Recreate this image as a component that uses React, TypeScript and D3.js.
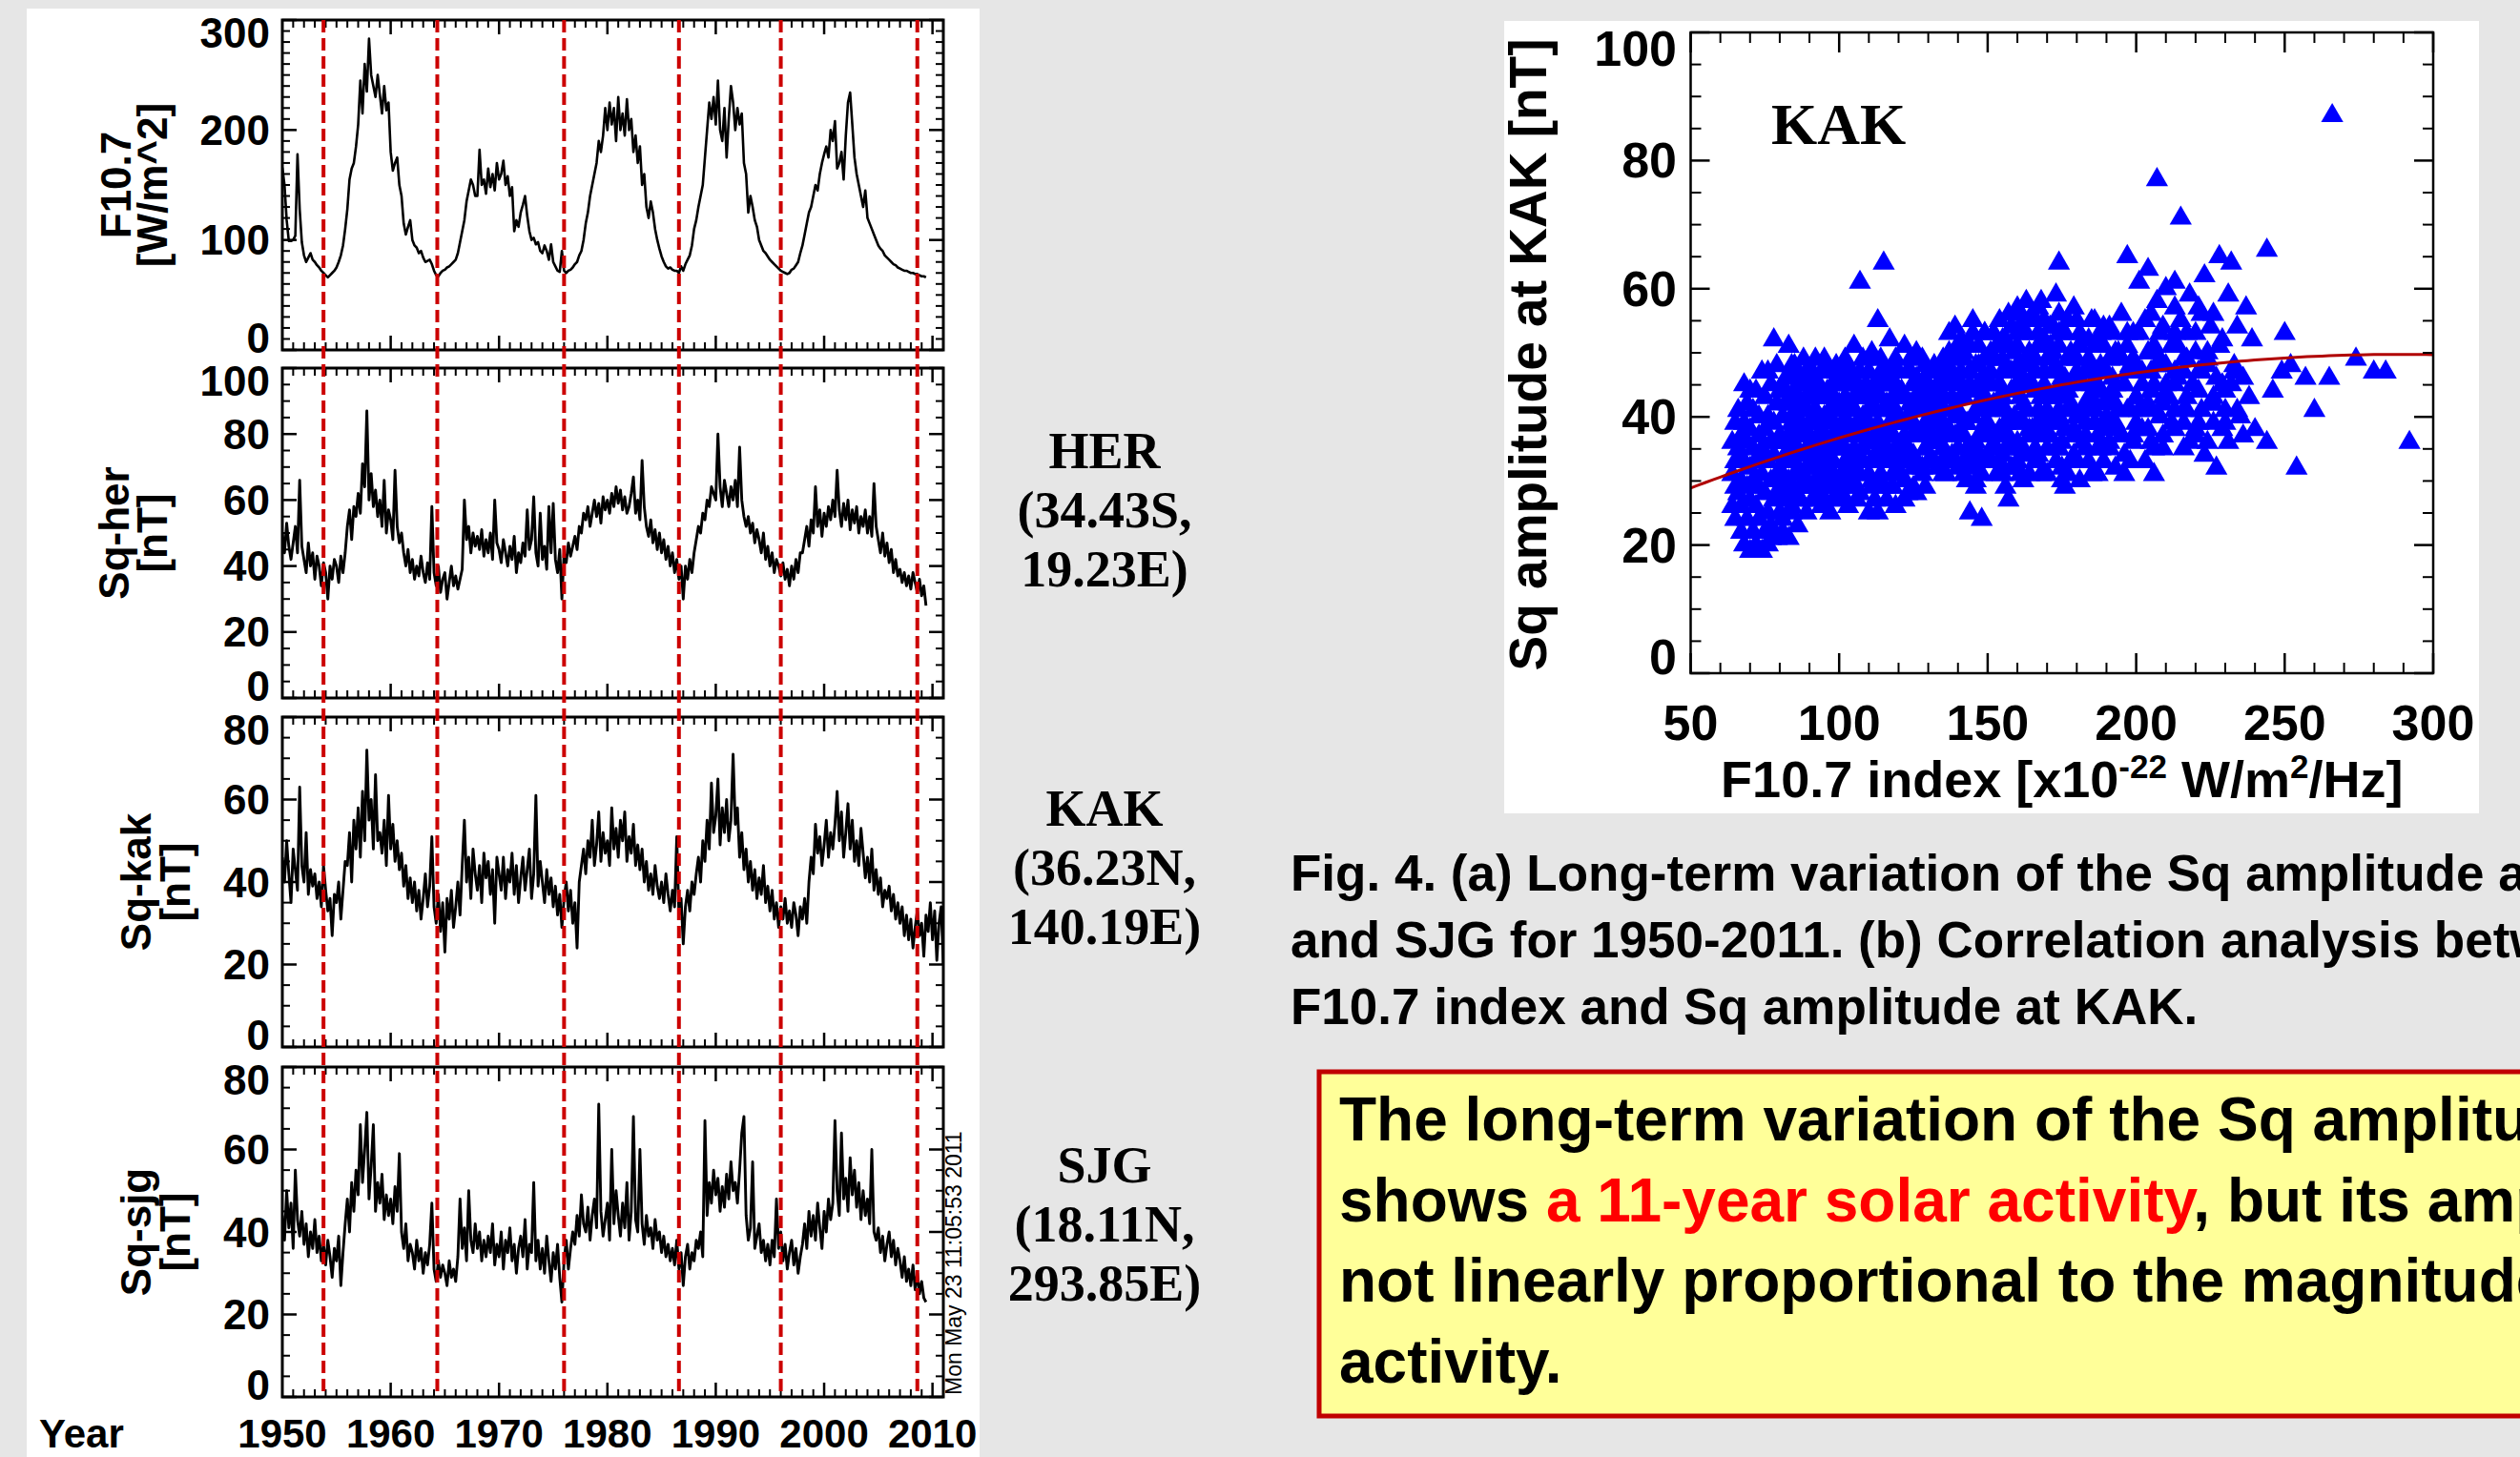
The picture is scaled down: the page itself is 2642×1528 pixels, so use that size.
import React from "react"
import * as d3 from "d3"

// time series are sampled every 0.2 year starting at 1950.0
const START_YEAR = 1950
const STEP = 0.2

// F10.7 solar flux [W/m^2]
const f107 = [
  166, 150, 118, 99, 99, // 1950
  100, 104, 178, 128, 98,
  86, 80, 84, 88, 82,
  80, 77, 75, 72, 70,
  68, 66, 68, 70, 72,
  75, 80, 86, 95, 110, // 1955
  128, 155, 165, 170, 185,
  205, 245, 215, 260, 235,
  283, 250, 240, 230, 250,
  232, 215, 240, 218, 225,
  180, 163, 170, 175, 150, // 1960
  140, 115, 105, 112, 118,
  100, 95, 93, 88, 90,
  84, 80, 81, 82, 78,
  72, 68, 67, 70, 72,
  73, 75, 76, 78, 80, // 1965
  82, 88, 98, 108, 118,
  135, 145, 155, 150, 140,
  140, 182, 150, 155, 142,
  165, 148, 160, 145, 170,
  155, 160, 172, 150, 158, // 1970
  140, 148, 108, 118, 112,
  125, 132, 140, 122, 108,
  100, 102, 96, 98, 90,
  88, 95, 90, 82, 96,
  80, 76, 72, 71, 90, // 1975
  72, 70, 72, 73, 75,
  78, 80, 86, 90, 100,
  115, 125, 140, 150, 160,
  170, 190, 180, 195, 220,
  200, 225, 205, 220, 190, // 1980
  230, 200, 215, 195, 228,
  200, 210, 180, 195, 170,
  185, 150, 160, 130, 120,
  135, 125, 110, 100, 92,
  85, 80, 76, 74, 75, // 1985
  73, 72, 72, 70, 76,
  72, 78, 82, 86, 95,
  110, 118, 130, 140, 150,
  175, 200, 225, 210, 230,
  205, 245, 200, 190, 220, // 1990
  175, 210, 240, 225, 200,
  220, 205, 215, 170, 160,
  125, 140, 130, 118, 112,
  100, 95, 90, 88, 85,
  82, 80, 78, 76, 74, // 1995
  72, 71, 70, 69, 70,
  73, 74, 77, 80, 88,
  95, 105, 115, 125, 130,
  140, 150, 145, 160, 170,
  178, 185, 175, 200, 190, // 2000
  208, 165, 170, 180, 155,
  195, 225, 234, 205, 175,
  160, 150, 140, 130, 145,
  120, 115, 110, 105, 100,
  95, 92, 90, 86, 84, // 2005
  82, 80, 78, 77, 75,
  74, 73, 72, 72, 71,
  70, 70, 69, 69, 68,
  67, 67, 66,
]

// Sq amplitude at Hermanus [nT]
const sqHer = [
  50, 44, 53, 46, 42, // 1950
  47, 52, 44, 66, 46,
  42, 38, 47, 40, 44,
  36, 43, 40, 34, 41,
  38, 30, 40, 36, 42,
  40, 35, 43, 38, 44, // 1955
  52, 57, 48, 58, 55,
  62, 56, 71, 64, 87,
  60, 68, 58, 63, 55,
  60, 52, 66, 50, 57,
  54, 48, 69, 52, 47, // 1960
  50, 44, 40, 45, 38,
  42, 36, 40, 37, 43,
  38, 35, 41, 36, 58,
  38, 34, 40, 32, 36,
  38, 30, 35, 40, 34, // 1965
  37, 33, 36, 39, 60,
  48, 52, 44, 50, 46,
  49, 45, 51, 43, 48,
  44, 50, 42, 60, 47,
  45, 41, 48, 44, 40, // 1970
  46, 42, 49, 38, 44,
  41, 47, 43, 57, 45,
  48, 61, 44, 40, 56,
  42, 46, 39, 58, 44,
  59, 42, 38, 45, 30, // 1975
  44, 41, 47, 43, 46,
  49, 45, 52, 50, 56,
  54, 58, 52, 56, 60,
  55, 59, 53, 61, 57,
  60, 56, 62, 58, 64, // 1980
  59, 63, 57, 61, 56,
  58, 62, 67, 56, 60,
  54, 72, 58, 52, 49,
  54, 47, 51, 45, 50,
  44, 48, 42, 46, 40, // 1985
  44, 38, 42, 36, 40,
  30, 40, 36, 42, 38,
  44, 48, 52, 50, 56,
  54, 60, 58, 64, 62,
  60, 80, 64, 58, 66, // 1990
  62, 58, 64, 60, 66,
  58, 76, 60, 55, 52,
  55, 50, 53, 47, 51,
  48, 44, 50, 42, 46,
  40, 44, 38, 42, 40, // 1995
  37, 41, 36, 39, 34,
  40, 36, 42, 38, 44,
  44, 48, 52, 46, 54,
  50, 64, 52, 57, 49,
  56, 52, 58, 54, 60, // 2000
  55, 69, 57, 52, 59,
  54, 60, 51, 57, 53,
  58, 50, 55, 52, 57,
  50, 55, 49, 65, 52,
  48, 44, 50, 43, 47, // 2005
  41, 45, 38, 42, 37,
  39, 35, 38, 34, 37,
  33, 38, 35, 32, 36,
  31, 34, 28,
]

// Sq amplitude at Kakioka [nT]
const sqKak = [
  46, 40, 50, 42, 35, // 1950
  48, 43, 38, 63, 44,
  40, 52, 37, 43, 39,
  42, 36, 40, 34, 44,
  38, 33, 36, 27, 37,
  35, 40, 31, 38, 45, // 1955
  44, 52, 40, 55, 48,
  58, 46, 62, 50, 72,
  55, 60, 48, 66, 50,
  52, 47, 55, 44, 61,
  48, 54, 45, 50, 43, // 1960
  47, 39, 44, 36, 41,
  35, 40, 33, 38, 31,
  36, 42, 34, 39, 51,
  34, 30, 37, 28, 35,
  23, 36, 31, 38, 29, // 1965
  34, 40, 32, 44, 55,
  40, 46, 36, 48, 42,
  38, 44, 35, 47, 41,
  45, 37, 43, 30, 46,
  42, 38, 46, 36, 43, // 1970
  40, 47, 37, 44, 35,
  41, 46, 38, 43, 48,
  36, 42, 61, 39, 45,
  40, 35, 43, 37, 41,
  34, 39, 32, 37, 29, // 1975
  36, 40, 33, 38, 30,
  35, 24, 40, 44, 48,
  42, 50, 46, 55, 44,
  49, 57, 45, 52, 47,
  50, 44, 58, 48, 53, // 1980
  46, 55, 50, 57, 45,
  51, 47, 54, 44, 49,
  43, 48, 40, 45, 38,
  42, 37, 44, 39, 36,
  40, 35, 42, 37, 33, // 1985
  38, 34, 51, 32, 36,
  25, 34, 38, 33, 40,
  37, 42, 46, 40, 50,
  45, 55, 48, 64, 52,
  56, 65, 49, 58, 52, // 1990
  60, 50, 55, 71, 54,
  58, 46, 52, 43, 48,
  40, 45, 38, 43, 36,
  41, 37, 44, 35, 39,
  33, 38, 31, 35, 29, // 1995
  34, 31, 36, 30, 33,
  29, 35, 32, 27, 34,
  31, 36, 30, 40, 46,
  42, 54, 47, 51, 44,
  49, 55, 46, 52, 48, // 2000
  54, 62, 50, 57, 46,
  52, 59, 48, 55, 45,
  50, 44, 53, 47, 41,
  46, 40, 48, 38, 43,
  37, 41, 34, 38, 36, // 2005
  39, 33, 37, 31, 35,
  30, 34, 27, 32, 26,
  31, 24, 29, 33, 27,
  30, 22, 32, 28, 35,
  26, 33, 21, 30, 34, // 2010
  20,
]

// Sq amplitude at San Juan [nT]
const sqSjg = [
  44, 38, 50, 41, 47, // 1950
  36, 55, 43, 39, 45,
  37, 42, 34, 40, 36,
  43, 35, 39, 33, 37,
  32, 38, 34, 29, 36,
  33, 39, 27, 35, 42, // 1955
  48, 40, 52, 45, 55,
  49, 66, 52, 60, 69,
  48, 56, 66, 45, 52,
  47, 54, 43, 49, 44,
  48, 42, 51, 45, 59, // 1960
  40, 36, 42, 33, 37,
  35, 31, 38, 33, 36,
  30, 35, 32, 37, 47,
  31, 28, 33, 29, 32,
  30, 27, 33, 29, 31, // 1965
  28, 34, 48, 36, 41,
  33, 50, 38, 35, 42,
  36, 40, 33, 38, 34,
  39, 35, 42, 32, 37,
  34, 40, 31, 38, 35, // 1970
  41, 33, 37, 30, 36,
  39, 34, 43, 31, 37,
  35, 52, 33, 38, 31,
  36, 30, 39, 33, 28,
  35, 31, 37, 29, 23, // 1975
  33, 38, 31, 36, 40,
  37, 44, 39, 49, 42,
  40, 46, 38, 44, 48,
  41, 71, 45, 39, 43,
  47, 38, 60, 42, 50, // 1980
  44, 39, 47, 41, 52,
  38, 45, 68, 43, 40,
  60, 42, 37, 44, 39,
  41, 36, 43, 38, 40,
  35, 39, 34, 37, 33, // 1985
  36, 32, 38, 31, 35,
  27, 34, 37, 31, 35,
  33, 38, 36, 40, 34,
  67, 44, 52, 47, 55,
  49, 53, 45, 51, 46, // 1990
  54, 48, 57, 50, 52,
  47, 55, 64, 68, 44,
  38, 41, 57, 36, 39,
  42, 35, 38, 33, 37,
  32, 38, 34, 48, 36, // 1995
  40, 33, 37, 31, 35,
  38, 32, 36, 30, 34,
  37, 42, 36, 45, 39,
  44, 38, 47, 41, 36,
  45, 40, 48, 43, 47, // 2000
  67, 50, 44, 64, 48,
  53, 45, 58, 49, 55,
  46, 52, 43, 50, 44,
  48, 42, 60, 40, 38,
  41, 35, 39, 33, 37, // 2005
  40, 34, 38, 32, 36,
  33, 29, 34, 28, 31,
  27, 32, 26, 30, 25,
  28, 24, 23,
]

// solar minima marked by the dashed lines
const solarMinima = [1953.8, 1964.3, 1976.0, 1986.6, 1996.0, 2008.6]
const yearLabels = [1950, 1960, 1970, 1980, 1990, 2000, 2010]

const stations = [
  { code: "HER", lat: "(34.43S,", lon: "19.23E)" },
  { code: "KAK", lat: "(36.23N,", lon: "140.19E)" },
  { code: "SJG", lat: "(18.11N,", lon: "293.85E)" },
]

// monthly F10.7 vs Sq amplitude at KAK: edges and outliers of the cloud
const kakScatter: [number, number][] = [
  [64, 26], [64, 31], [64, 36], [65, 29], [65, 33], [65, 39], [65, 24], [66, 28], [66, 35], [66, 41],
  [67, 22], [67, 30], [67, 37], [67, 26], [68, 20], [68, 33], [68, 45], [68, 39], [69, 24], [69, 29],
  [69, 36], [69, 42], [70, 19], [70, 27], [70, 32], [70, 38], [71, 22], [71, 35], [71, 41], [71, 30],
  [72, 20], [72, 26], [72, 33], [72, 44], [73, 29], [73, 37], [73, 24], [73, 40], [74, 19], [74, 31],
  [74, 35], [74, 47], [75, 22], [75, 28], [75, 38], [75, 43], [76, 25], [76, 33], [76, 40], [76, 20],
  [77, 30], [77, 36], [77, 45], [77, 23], [78, 27], [78, 34], [78, 39], [78, 52], [79, 21], [79, 31],
  [79, 42], [79, 48], [80, 25], [80, 29], [80, 37], [80, 44],
  [81, 22], [81, 33], [81, 40], [82, 27], [82, 36], [82, 46], [83, 21], [83, 30], [83, 42], [83, 51],
  [84, 25], [84, 38], [84, 48], [85, 28], [85, 34], [85, 44], [86, 23], [86, 31], [86, 40], [87, 27],
  [87, 37], [87, 46], [88, 30], [88, 42], [89, 25], [89, 34], [89, 47], [90, 29], [90, 39], [90, 44],
  [91, 32], [91, 36], [92, 27], [92, 41], [92, 46], [93, 30], [93, 35], [94, 26], [94, 38], [94, 43],
  [95, 32], [95, 47], [96, 29], [96, 36], [97, 40], [97, 44], [98, 27], [98, 33], [99, 38], [99, 46],
  [100, 30], [100, 35], [100, 42],
  [101, 28], [101, 39], [102, 33], [102, 45], [103, 37], [103, 48], [104, 30], [104, 42], [105, 35], [105, 46],
  [106, 29], [106, 39], [107, 43], [107, 61], [108, 33], [108, 49], [109, 37], [109, 45], [110, 25], [110, 31],
  [110, 41], [111, 36], [111, 50], [112, 34], [112, 44], [113, 25], [113, 39], [113, 55], [114, 30], [114, 47],
  [115, 36], [115, 64], [116, 33], [116, 42], [117, 38], [117, 52], [118, 29], [118, 45], [119, 35], [119, 49],
  [120, 31], [120, 40], [121, 44], [122, 37], [122, 51], [123, 28], [123, 34], [124, 42], [124, 47], [125, 39],
  [126, 33], [126, 50], [127, 37], [127, 44], [128, 41], [129, 35], [129, 48], [130, 38], [130, 45],
  [131, 36], [131, 42], [132, 33], [132, 47], [133, 39], [134, 44], [134, 36], [135, 31], [135, 41], [136, 48],
  [137, 38], [137, 53], [138, 34], [138, 43], [139, 40], [139, 54], [140, 32], [140, 46], [141, 37], [142, 43],
  [142, 50], [143, 30], [143, 39], [144, 45], [144, 25], [145, 34], [145, 55], [146, 41], [146, 29], [147, 37],
  [147, 48], [148, 24], [148, 44], [149, 33], [149, 53], [150, 39], [150, 46], [151, 35], [152, 42], [152, 49],
  [153, 31], [154, 45], [154, 38], [155, 52], [155, 34], [156, 41], [156, 47], [157, 27], [157, 56], [158, 36],
  [158, 44], [159, 50], [160, 32], [160, 39], [160, 57],
  [161, 46], [162, 35], [162, 53], [163, 41], [163, 58], [164, 31], [164, 48], [165, 38], [165, 56], [166, 44],
  [167, 34], [167, 51], [168, 40], [168, 58], [169, 47], [170, 31], [170, 37], [171, 43], [171, 54], [172, 50],
  [173, 35], [173, 59], [174, 41], [174, 64], [175, 46], [175, 30], [176, 38], [176, 53], [177, 44], [178, 33],
  [178, 49], [179, 57], [180, 40], [181, 46], [182, 36], [182, 52], [183, 42], [184, 48], [185, 31], [185, 55],
  [186, 39], [187, 45], [188, 35], [188, 51], [189, 42], [190, 38], [190, 47], [191, 54], [192, 44], [193, 39],
  [194, 50], [195, 37], [195, 56], [196, 45], [197, 41], [197, 65], [198, 48], [199, 36], [199, 53], [200, 43],
  [201, 61], [202, 47], [202, 38], [203, 55], [203, 33], [204, 42], [204, 63], [205, 50], [205, 36], [206, 31],
  [206, 45], [207, 58], [207, 77], [208, 40], [208, 53], [209, 35], [210, 48], [210, 60], [211, 43], [212, 51],
  [213, 38], [213, 61], [214, 46], [215, 71], [215, 55], [216, 41], [217, 49], [218, 36], [218, 59], [219, 45],
  [220, 53], [221, 39], [221, 57], [222, 47], [223, 34], [223, 62], [224, 50], [225, 42], [226, 56], [227, 32],
  [227, 46], [228, 65], [229, 38], [229, 52], [230, 44], [231, 36], [231, 59], [232, 64], [233, 48], [234, 54],
  [235, 40], [236, 37], [236, 46], [237, 57], [238, 43], [239, 52], [240, 38],
  [244, 66], [244, 36], [246, 44], [249, 47], [250, 53], [252, 48], [254, 32], [257, 46], [260, 41], [265, 46],
  [266, 87], [274, 49], [280, 47], [284, 47], [292, 36],
]

// monthly F10.7 vs Sq amplitude at KAK: the dense core of the cloud
const kakScatterCore: [number, number][] = [
  [84, 26], [91, 27], [97, 25], [103, 26], [112, 27], [119, 26], [126, 28],
  [81, 28], [88, 29], [94, 28], [100, 29], [107, 28], [115, 29], [122, 30], [129, 29],
  [85, 31], [92, 30], [98, 31], [104, 32], [111, 30], [118, 31], [125, 32],
  [82, 33], [89, 32], [95, 34], [102, 32], [108, 33], [116, 34], [121, 33], [128, 32],
  [86, 35], [93, 34], [99, 35], [105, 34], [112, 36], [119, 35], [125, 34],
  [83, 36], [90, 37], [96, 36], [103, 38], [109, 36], [114, 37], [122, 36], [129, 37],
  [87, 38], [92, 39], [100, 38], [106, 39], [113, 38], [120, 39], [126, 38],
  [84, 40], [89, 41], [95, 40], [102, 41], [108, 40], [115, 41], [123, 40], [128, 41],
  [86, 42], [93, 43], [98, 42], [105, 43], [111, 42], [118, 43], [125, 42],
  [82, 44], [90, 45], [96, 44], [103, 45], [109, 44], [116, 45], [121, 44], [129, 45],
  [88, 46], [94, 47], [101, 46], [107, 47], [113, 46], [120, 47], [126, 46],
  [85, 48], [92, 49], [99, 48], [110, 49], [118, 48], [124, 49],
  [105, 51],
  [71, 22], [77, 21], [66, 33], [73, 34], [79, 36], [70, 44], [76, 47], [81, 24],
  [146, 30], [162, 30], [181, 30],
  [133, 32], [139, 33], [145, 32], [151, 33], [158, 32], [166, 33], [175, 32], [184, 33], [193, 32],
  [136, 34], [143, 35], [150, 34], [156, 35], [163, 34], [170, 35], [179, 34], [187, 35], [196, 34],
  [132, 36], [139, 37], [146, 36], [153, 37], [160, 36], [168, 37], [175, 36], [183, 37], [191, 36], [199, 37],
  [135, 38], [142, 39], [149, 38], [156, 39], [164, 38], [171, 39], [179, 38], [186, 39], [194, 38],
  [131, 40], [138, 41], [145, 40], [152, 41], [159, 40], [167, 41], [174, 40], [182, 41], [190, 40], [198, 41],
  [134, 42], [141, 43], [148, 42], [155, 43], [162, 42], [170, 43], [178, 42], [185, 43], [193, 42],
  [131, 44], [137, 45], [144, 44], [151, 45], [158, 44], [165, 45], [173, 44], [181, 45], [188, 44], [196, 45],
  [135, 46], [141, 47], [148, 46], [155, 47], [162, 46], [169, 47], [176, 46], [184, 47], [192, 46],
  [132, 48], [139, 49], [146, 48], [152, 49], [160, 48], [166, 49], [173, 48], [180, 49], [188, 48], [195, 49],
  [137, 50], [144, 51], [151, 50], [157, 51], [164, 50], [171, 51], [178, 50], [186, 51], [193, 50],
  [141, 52], [149, 53], [156, 52], [163, 53], [169, 52], [176, 53], [184, 52], [192, 53],
  [158, 54], [165, 55], [172, 54], [180, 55], [189, 54],
  [161, 56], [167, 57], [174, 56],
  [204, 38], [212, 39], [220, 38], [230, 39],
  [201, 41], [209, 42], [217, 41], [226, 42], [234, 41],
  [205, 44], [213, 45], [221, 44], [229, 45],
  [201, 47], [208, 48], [216, 47], [224, 48], [233, 47],
  [204, 50], [212, 51], [220, 50], [228, 51],
  [201, 53], [209, 54], [217, 53], [225, 54],
  [205, 56], [213, 57], [222, 56],
  [216, 35], [224, 36],
]

// monthly F10.7 vs Sq amplitude at KAK: points lying between the core rows
const kakScatterFill: [number, number][] = [
  [87, 27], [94, 27], [100, 27], [106, 27], [116, 27], [122, 27],
  [84, 29], [91, 29], [97, 29], [103, 29], [111, 29], [118, 29], [125, 29], [156, 29], [176, 29],
  [81, 31], [88, 31], [95, 31], [101, 31], [107, 31], [114, 31], [121, 31], [128, 31], [136, 31], [142, 31],
  [148, 31], [155, 31], [161, 31], [168, 31], [177, 31], [187, 31], [196, 31],
  [85, 33], [92, 33], [98, 33], [105, 33], [112, 33], [119, 33], [124, 33], [130, 33], [136, 33], [142, 33],
  [148, 33], [154, 33], [160, 33], [167, 33], [173, 33], [180, 33], [189, 33], [198, 33],
  [83, 35], [89, 35], [96, 35], [102, 35], [108, 35], [115, 35], [122, 35], [129, 35], [135, 35], [140, 35],
  [146, 35], [153, 35], [160, 35], [166, 35], [174, 35], [183, 35], [191, 35], [206, 35],
  [86, 37], [93, 37], [99, 37], [106, 37], [112, 37], [118, 37], [125, 37], [131, 37], [136, 37], [142, 37],
  [150, 37], [157, 37], [164, 37], [171, 37], [179, 37], [187, 37], [195, 37], [209, 37], [220, 37],
  [84, 39], [90, 39], [97, 39], [103, 39], [110, 39], [117, 39], [123, 39], [129, 39], [135, 39], [142, 39],
  [149, 39], [156, 39], [162, 39], [168, 39], [175, 39], [183, 39], [190, 39], [200, 39], [216, 39], [226, 39],
  [86, 41], [92, 41], [99, 41], [105, 41], [112, 41], [119, 41], [126, 41], [132, 41], [140, 41], [148, 41],
  [155, 41], [163, 41], [170, 41], [178, 41], [186, 41], [194, 41], [205, 41], [213, 41], [222, 41], [230, 41],
  [83, 43], [89, 43], [95, 43], [102, 43], [108, 43], [114, 43], [121, 43], [128, 43], [134, 43], [141, 43],
  [148, 43], [154, 43], [161, 43], [168, 43], [176, 43], [184, 43], [191, 43], [200, 43], [209, 43], [217, 43], [226, 43],
  [86, 45], [93, 45], [99, 45], [106, 45], [112, 45], [119, 45], [125, 45], [133, 45], [140, 45], [147, 45],
  [154, 45], [161, 45], [169, 45], [177, 45], [185, 45], [193, 45], [202, 45], [210, 45], [219, 45], [232, 45],
  [84, 47], [91, 47], [97, 47], [104, 47], [110, 47], [116, 47], [123, 47], [130, 47], [138, 47], [144, 47],
  [151, 47], [158, 47], [166, 47], [172, 47], [180, 47], [188, 47], [197, 47], [205, 47], [213, 47], [221, 47],
  [88, 49], [95, 49], [102, 49], [114, 49], [128, 49], [135, 49], [142, 49], [149, 49],
  [155, 49], [163, 49], [170, 49], [177, 49], [184, 49], [191, 49], [199, 49], [208, 49], [216, 49], [224, 49],
  [140, 51], [147, 51], [153, 51], [160, 51], [167, 51],
  [174, 51], [181, 51], [189, 51], [197, 51], [206, 51], [214, 51],
  [145, 53], [152, 53], [160, 53], [167, 53], [174, 53], [181, 53], [188, 53], [197, 53], [213, 53],
  [154, 55], [162, 55], [169, 55], [177, 55], [186, 55],
]

// quadratic fit Sq = c0 + c1*F + c2*F^2
const fitCoef = [19.26, 0.211, -0.000365]

const W = 2642
const H = 1528
const SANS = "'Liberation Sans', Arial, Helvetica, sans-serif"
const SERIF = "'Liberation Serif', 'Times New Roman', serif"
const RED_DASH = "#cc0000"

const PLOT_L = 296
const PLOT_R = 989
const PANEL_H = 346

const panels = [
  { data: f107, max: 300, major: 100, minor: 10, title: ["F10.7", "[W/m^2]"], top: 21, titleX: [137, 175] },
  { data: sqHer, max: 100, major: 20, minor: 5, title: ["Sq-her", "[nT]"], top: 386, titleX: [135, 175] },
  { data: sqKak, max: 80, major: 20, minor: 5, title: ["Sq-kak", "[nT]"], top: 752, titleX: [158, 199] },
  { data: sqSjg, max: 80, major: 20, minor: 5, title: ["Sq-sjg", "[nT]"], top: 1119, titleX: [158, 199] },
]

const xYear = d3.scaleLinear().domain([1950, 2011]).range([PLOT_L, PLOT_R])

function TimePanel({ p, idx }: { p: any; idx: number }) {
  const top = p.top
  const bottom = top + PANEL_H
  const y = d3.scaleLinear().domain([0, p.max]).range([bottom, top])
  const line = d3
    .line<number>()
    .x((_, i) => xYear(START_YEAR + i * STEP))
    .y((d) => y(d))
  const majors = d3.range(0, p.max + 0.01, p.major)
  const minors = d3.range(0, p.max + 0.01, p.minor).filter((v) => v % p.major !== 0)
  const decades = d3.range(1960, 2011, 10)
  const years = d3.range(1951, 2011).filter((v) => v % 10 !== 0)
  const cy = (top + bottom) / 2
  const clipId = "clip-ts-" + idx
  return (
    <g>
      <clipPath id={clipId}>
        <rect x={PLOT_L} y={top} width={PLOT_R - PLOT_L} height={PANEL_H} />
      </clipPath>
      <path
        d={line(p.data) || ""}
        fill="none"
        stroke="#000"
        strokeWidth={idx === 0 ? 2.6 : 2.9}
        strokeLinejoin="round"
        clipPath={`url(#${clipId})`}
      />
      {/* y ticks on both sides */}
      {majors.map((v) => (
        <g key={"M" + v} stroke="#000" strokeWidth={2.5}>
          <line x1={PLOT_L} x2={PLOT_L + 15} y1={y(v)} y2={y(v)} />
          <line x1={PLOT_R} x2={PLOT_R - 15} y1={y(v)} y2={y(v)} />
        </g>
      ))}
      {minors.map((v) => (
        <g key={"m" + v} stroke="#000" strokeWidth={2}>
          <line x1={PLOT_L} x2={PLOT_L + 8} y1={y(v)} y2={y(v)} />
          <line x1={PLOT_R} x2={PLOT_R - 8} y1={y(v)} y2={y(v)} />
        </g>
      ))}
      {/* year ticks on top and bottom */}
      {decades.map((v) => (
        <g key={"D" + v} stroke="#000" strokeWidth={2.5}>
          <line x1={xYear(v)} x2={xYear(v)} y1={bottom} y2={bottom - 15} />
          <line x1={xYear(v)} x2={xYear(v)} y1={top} y2={top + 15} />
        </g>
      ))}
      {years.map((v) => (
        <g key={"Y" + v} stroke="#000" strokeWidth={2}>
          <line x1={xYear(v)} x2={xYear(v)} y1={bottom} y2={bottom - 8} />
          <line x1={xYear(v)} x2={xYear(v)} y1={top} y2={top + 8} />
        </g>
      ))}
      <rect x={PLOT_L} y={top} width={PLOT_R - PLOT_L} height={PANEL_H} fill="none" stroke="#000" strokeWidth={3} />
      {majors.map((v) => {
        const c = Math.min(Math.max(y(v), top + 13), bottom - 13)
        return (
          <text key={"L" + v} x={283} y={c + 15.5} textAnchor="end" fontFamily={SANS} fontWeight="bold" fontSize={44}>
            {v}
          </text>
        )
      })}
      {p.title.map((t: string, k: number) => (
        <text
          key={"T" + k}
          transform={`translate(${p.titleX[k]},${cy}) rotate(-90)`}
          textAnchor="middle"
          fontFamily={SANS}
          fontWeight="bold"
          fontSize={44}
        >
          {t}
        </text>
      ))}
    </g>
  )
}

function ScatterPanel() {
  const L = 1772.5
  const R = 2551
  const T = 34
  const B = 706
  const x = d3.scaleLinear().domain([50, 300]).range([L, R])
  const y = d3.scaleLinear().domain([0, 100]).range([B, T])
  const tri = d3.symbol().type(d3.symbolTriangle).size(235)() || ""
  const fitLine = d3
    .line<number>()
    .x((f) => x(f))
    .y((f) => y(fitCoef[0] + fitCoef[1] * f + fitCoef[2] * f * f))
  const fitF = d3.range(50, 300.01, 2.5)
  const xMaj = d3.range(50, 301, 50)
  const xMin = d3.range(60, 300, 10).filter((v) => v % 50 !== 0)
  const yMaj = d3.range(0, 101, 20)
  const yMin = d3.range(5, 100, 5).filter((v) => v % 20 !== 0)
  const points = kakScatterFill.concat(kakScatterCore, kakScatter)
  return (
    <g>
      <rect x={1577} y={22} width={1022} height={831} fill="#fff" />
      {points.map(([f, s], i) => (
        <path key={i} d={tri} transform={`translate(${x(f)},${y(s)})`} fill="#0000ff" />
      ))}
      <path d={fitLine(fitF) || ""} fill="none" stroke="#b00000" strokeWidth={3} />
      {yMaj.map((v) => (
        <g key={"M" + v} stroke="#000" strokeWidth={2.5}>
          <line x1={L} x2={L + 20} y1={y(v)} y2={y(v)} />
          <line x1={R} x2={R - 20} y1={y(v)} y2={y(v)} />
        </g>
      ))}
      {yMin.map((v) => (
        <g key={"m" + v} stroke="#000" strokeWidth={2}>
          <line x1={L} x2={L + 11} y1={y(v)} y2={y(v)} />
          <line x1={R} x2={R - 11} y1={y(v)} y2={y(v)} />
        </g>
      ))}
      {xMaj.map((v) => (
        <g key={"X" + v} stroke="#000" strokeWidth={2.5}>
          <line x1={x(v)} x2={x(v)} y1={B} y2={B - 21} />
          <line x1={x(v)} x2={x(v)} y1={T} y2={T + 21} />
        </g>
      ))}
      {xMin.map((v) => (
        <g key={"x" + v} stroke="#000" strokeWidth={2}>
          <line x1={x(v)} x2={x(v)} y1={B} y2={B - 11} />
          <line x1={x(v)} x2={x(v)} y1={T} y2={T + 11} />
        </g>
      ))}
      <rect x={L} y={T} width={R - L} height={B - T} fill="none" stroke="#000" strokeWidth={2.5} />
      {yMaj.map((v) => {
        const c = Math.min(Math.max(y(v), T + 17), B - 17)
        return (
          <text key={"yl" + v} x={1758} y={c + 18} textAnchor="end" fontFamily={SANS} fontWeight="bold" fontSize={52}>
            {v}
          </text>
        )
      })}
      {xMaj.map((v) => (
        <text key={"xl" + v} x={x(v)} y={776} textAnchor="middle" fontFamily={SANS} fontWeight="bold" fontSize={52}>
          {v}
        </text>
      ))}
      <text
        transform={`translate(1621,${(T + B) / 2 + 2}) rotate(-90)`}
        textAnchor="middle"
        fontFamily={SANS}
        fontWeight="bold"
        fontSize={55}
      >
        Sq amplitude at KAK [nT]
      </text>
      <text x={(L + R) / 2} y={836} textAnchor="middle" fontFamily={SANS} fontWeight="bold" fontSize={54}>
        F10.7 index [x10
        <tspan dy={-20} fontSize={35}>-22</tspan>
        <tspan dy={20}> W/m</tspan>
        <tspan dy={-20} fontSize={35}>2</tspan>
        <tspan dy={20}>/Hz]</tspan>
      </text>
      <text x={1857} y={151} fontFamily={SERIF} fontWeight="bold" fontSize={62}>
        KAK
      </text>
    </g>
  )
}

export default function App() {
  const tsBottom = panels[3].top + PANEL_H
  return (
    <div style={{ position: "absolute", left: 0, top: 0, width: W, height: H, overflow: "hidden" }}>
      <svg width={W} height={H} viewBox={`0 0 ${W} ${H}`} style={{ display: "block" }}>
        <rect width={W} height={H} fill="#e6e6e6" />
        <rect x={28} y={9} width={999} height={H - 9} fill="#fff" />
        {panels.map((p, i) => (
          <TimePanel key={i} p={p} idx={i} />
        ))}
        {solarMinima.map((m) => (
          <line
            key={m}
            x1={xYear(m)}
            x2={xYear(m)}
            y1={panels[0].top}
            y2={tsBottom}
            stroke={RED_DASH}
            strokeWidth={4}
            strokeDasharray="13 6"
          />
        ))}
        {yearLabels.map((yr) => (
          <text key={yr} x={xYear(yr)} y={1518} textAnchor="middle" fontFamily={SANS} fontWeight="bold" fontSize={42}>
            {yr}
          </text>
        ))}
        <text x={41} y={1518} fontFamily={SANS} fontWeight="bold" fontSize={42}>
          Year
        </text>
        <text transform={`translate(1008,${tsBottom - 2}) rotate(-90)`} fontFamily={SANS} fontSize={23}>
          Mon May 23 11:05:53 2011
        </text>

        {stations.map((s, i) => (
          <text key={s.code} textAnchor="middle" fontFamily={SERIF} fontWeight="bold" fontSize={54} fill="#000">
            <tspan x={1158} y={491 + i * 374.5}>{s.code}</tspan>
            <tspan x={1158} y={553 + i * 374.5}>{s.lat}</tspan>
            <tspan x={1158} y={615 + i * 374.5}>{s.lon}</tspan>
          </text>
        ))}

        <ScatterPanel />

        <g fontFamily={SANS} fontWeight="bold" fontSize={53}>
          <text x={1353} y={934}>Fig. 4. (a) Long-term variation of the Sq amplitude at HER, KAK,</text>
          <text x={1353} y={1004}>and SJG for 1950-2011. (b) Correlation analysis between</text>
          <text x={1353} y={1074}>F10.7 index and Sq amplitude at KAK.</text>
        </g>

        <rect x={1383} y={1124} width={1300} height={361} fill="#ffff99" stroke="#c00000" strokeWidth={5} />
        <g fontFamily={SANS} fontWeight="bold" fontSize={64}>
          <text x={1404} y={1196}>The long-term variation of the Sq amplitude</text>
          <text x={1404} y={1281}>
            shows <tspan fill="#ff0000">a 11-year solar activity</tspan>, but its amplitude is
          </text>
          <text x={1404} y={1365}>not linearly proportional to the magnitude of solar</text>
          <text x={1404} y={1450}>activity.</text>
        </g>
      </svg>
    </div>
  )
}
